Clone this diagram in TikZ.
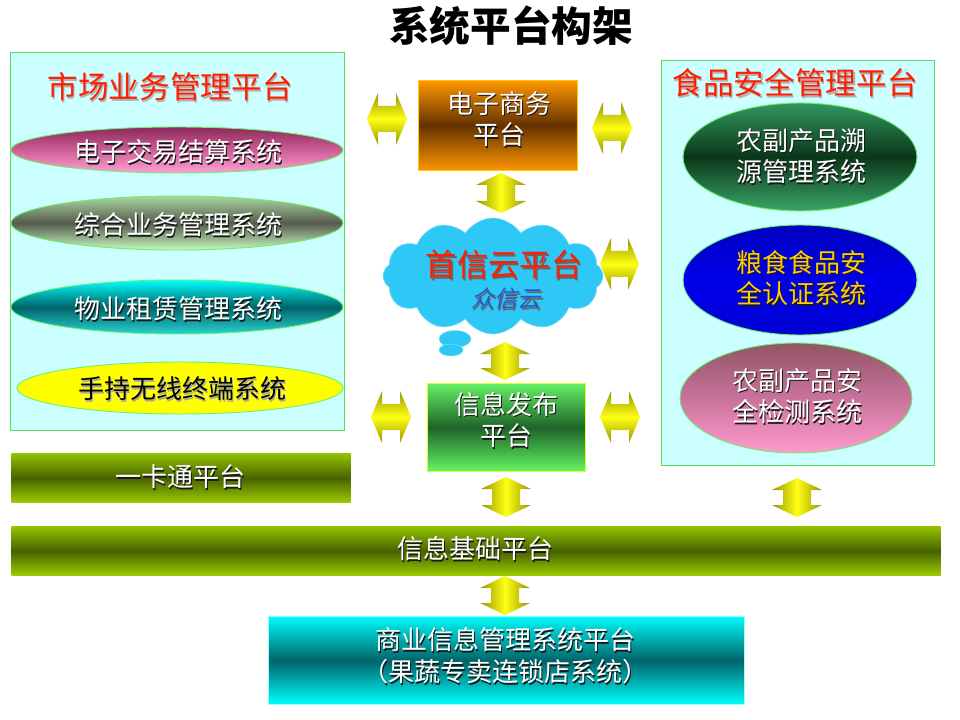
\documentclass[tikz,border=0pt]{standalone}
\usepackage{fontspec}
\setmainfont{Noto Sans CJK SC}
\newfontfamily\cjkit[FakeSlant=0.22]{Noto Sans CJK SC}
\usetikzlibrary{shapes.geometric,shapes.symbols,calc}
\def\pxu{0.75pt}
\definecolor{panelfill}{RGB}{204,255,255}
\definecolor{panelborder}{RGB}{90,220,90}
\definecolor{ellborder}{RGB}{110,240,110}
\definecolor{titlered}{RGB}{255,30,0}
\definecolor{arrolive}{RGB}{150,150,0}
\definecolor{arryellow}{RGB}{255,255,20}
\definecolor{cloudblue}{RGB}{45,200,245}
\definecolor{cloudedge}{RGB}{130,220,250}
\definecolor{goldtxt}{RGB}{255,204,0}
\definecolor{cloudtxtblue}{RGB}{40,90,200}
\newcommand\shtext[5][black!90]{%
  \node[#4,text=#1] at ([shift={(1.2pt,-1.2pt)}]#3) {#5};
  \node[#4] (#2) at (#3) {#5};}
\newcommand\varrow[4]{% name, cx, ytop, ybot
  \coordinate (#1) at (#2,{(#3+#4)/2});
  \path[varr] (#2,#3) -- (#2+25,#3+12) -- (#2+14,#3+12) -- (#2+14,#4-12) -- (#2+25,#4-12)
    -- (#2,#4) -- (#2-25,#4-12) -- (#2-14,#4-12) -- (#2-14,#3+12) -- (#2-25,#3+12) -- cycle;}
\newcommand\harrow[4]{% name, xl, xr, cy
  \coordinate (#1) at ({(#2+#3)/2},#4);
  \path[harr] (#2,#4) -- (#2+11,#4-26) -- (#2+11,#4-13) -- (#3-11,#4-13) -- (#3-11,#4-26)
    -- (#3,#4) -- (#3-11,#4+26) -- (#3-11,#4+13) -- (#2+11,#4+13) -- (#2+11,#4+26) -- cycle;}
\begin{document}
\begin{tikzpicture}[x=0.75pt,y=-0.75pt,
  panel/.style={rectangle,draw=panelborder,fill=panelfill,line width=0.8pt,inner sep=0,anchor=north west},
  ell/.style={ellipse,inner sep=0,draw=ellborder,line width=0.7pt},
  rbox/.style={rectangle,inner sep=0,anchor=north west,line width=0.8pt},
  bar/.style={rbox,top color={rgb,255:red,145;green,195;blue,0},bottom color={rgb,255:red,155;green,205;blue,0},middle color={rgb,255:red,72;green,98;blue,0}},
  wtxt/.style={text=white,font=\fontsize{19.5}{23.5}\selectfont,align=center,inner sep=0},
  rtitle/.style={text=titlered,font=\fontsize{23}{27}\selectfont,inner sep=0},
  varr/.style={left color=arrolive,right color=arrolive,middle color=arryellow},
  harr/.style={top color=arrolive,bottom color=arrolive,middle color=arryellow},
  puff/.style={ellipse,fill=cloudblue,draw=cloudedge,inner sep=0},
]
\useasboundingbox (0,0) rectangle (960,720);
\fill[white] (0,0) rectangle (960,720);

% title
\node[font=\bfseries\fontsize{30.5}{34}\selectfont,inner sep=0] (title) at (511,26) {系统平台构架};

% left panel
\node[panel,minimum width=334*\pxu,minimum height=378*\pxu] (lp) at (10,52) {};
\shtext[black!30]{lpt}{170,87}{rtitle}{市场业务管理平台}
\node[ell,minimum width=332*\pxu,minimum height=46*\pxu,
  top color={rgb,255:red,140;green,40;blue,90},bottom color={rgb,255:red,255;green,160;blue,210},middle color={rgb,255:red,205;green,95;blue,150}] (e1) at (177,150) {};
\shtext{e1t}{178,152}{wtxt}{电子交易结算系统}
\node[ell,minimum width=332*\pxu,minimum height=54*\pxu,
  top color={rgb,255:red,170;green,215;blue,160},bottom color={rgb,255:red,200;green,250;blue,190},middle color={rgb,255:red,85;green,92;blue,78}] (e2) at (177,223) {};
\shtext{e2t}{178,225}{wtxt}{综合业务管理系统}
\node[ell,minimum width=332*\pxu,minimum height=54*\pxu,
  top color={rgb,255:red,0;green,255;blue,255},bottom color={rgb,255:red,40;green,210;blue,210},middle color={rgb,255:red,0;green,100;blue,105}] (e3) at (177,307) {};
\shtext{e3t}{178,309}{wtxt}{物业租赁管理系统}
\node[ell,minimum width=326*\pxu,minimum height=52*\pxu,fill={rgb,255:red,255;green,255;blue,0}] (e4) at (180,388) {};
\shtext[black!35]{e4t}{182,389}{wtxt,text=black}{手持无线终端系统}

% right panel
\node[panel,minimum width=273*\pxu,minimum height=405*\pxu] (rp) at (661,60) {};
\shtext[black!30]{rpt}{795,83}{rtitle}{食品安全管理平台}
\node[ell,minimum width=234*\pxu,minimum height=108*\pxu,
  top color={rgb,255:red,50;green,150;blue,95},bottom color={rgb,255:red,60;green,165;blue,105},middle color={rgb,255:red,10;green,55;blue,25}] (r1) at (800,157) {};
\shtext{r1t}{801,156}{wtxt}{农副产品溯\\源管理系统}
\node[ell,minimum width=234*\pxu,minimum height=110*\pxu,
  top color={rgb,255:red,0;green,0;blue,190},bottom color={rgb,255:red,0;green,0;blue,210},middle color={rgb,255:red,0;green,0;blue,235}] (r2) at (800,280) {};
\shtext{r2t}{801,278}{wtxt,text=goldtxt}{粮食食品安\\全认证系统}
\node[ell,minimum width=232*\pxu,minimum height=110*\pxu,
  top color={rgb,255:red,145;green,85;blue,100},bottom color={rgb,255:red,255;green,155;blue,205},middle color={rgb,255:red,200;green,115;blue,155}] (r3) at (796,398) {};
\shtext{r3t}{797,396}{wtxt}{农副产品安\\全检测系统}

% center column
\node[rbox,draw={rgb,255:red,255;green,204;blue,0},minimum width=159*\pxu,minimum height=90*\pxu,
  top color={rgb,255:red,255;green,150;blue,0},bottom color={rgb,255:red,255;green,150;blue,0},middle color={rgb,255:red,100;green,50;blue,0}] (ec) at (418,80) {};
\shtext{ect}{499,119}{wtxt}{电子商务\\平台}

\node[cloud,cloud puffs=12,cloud puff arc=115,aspect=1.85,minimum width=220*\pxu,minimum height=116*\pxu,
  fill=cloudblue,draw=cloudedge,inner sep=0] (cloud) at (493,276) {};
\node[puff,minimum width=32*\pxu,minimum height=17*\pxu] (puff1) at (455,339) {};
\node[puff,minimum width=24*\pxu,minimum height=12*\pxu] (puff2) at (451,350) {};
\shtext[black!60]{cloudt}{504,265}{rtitle,font=\fontsize{23.5}{27}\selectfont}{首信云平台}
\shtext[black!60]{cloudst}{506,299}{inner sep=0,text=cloudtxtblue,font=\cjkit\fontsize{17.5}{20}\selectfont}{众信云}

\node[rbox,draw={rgb,255:red,220;green,255;blue,40},minimum width=158*\pxu,minimum height=88*\pxu,
  top color={rgb,255:red,100;green,240;blue,100},bottom color={rgb,255:red,100;green,245;blue,100},middle color={rgb,255:red,30;green,100;blue,40}] (info) at (427,383) {};
\shtext{infot}{506,420}{wtxt}{信息发布\\平台}

% bars
\node[bar,minimum width=339*\pxu,minimum height=49*\pxu] (card) at (11,453) {};
\shtext{cardt}{180,477}{wtxt}{一卡通平台}
\node[bar,minimum width=929*\pxu,minimum height=49*\pxu] (base) at (11,526) {};
\shtext{baset}{475,549}{wtxt}{信息基础平台}

% commerce box
\node[rbox,draw={rgb,255:red,150;green,255;blue,255},minimum width=476*\pxu,minimum height=88*\pxu,
  top color={rgb,255:red,0;green,250;blue,250},bottom color={rgb,255:red,0;green,255;blue,255},middle color={rgb,255:red,0;green,100;blue,105}] (com) at (268,616) {};
\shtext{comt}{505,656}{wtxt,font=\fontsize{19.5}{24}\selectfont}{商业信息管理系统平台\\（果蔬专卖连锁店系统）}

% vertical arrows
\varrow{va1}{501}{173}{213}
\varrow{va2}{505}{342}{380}
\varrow{va3}{506}{477}{517}
\varrow{va4}{505}{576}{615}
\varrow{va5}{797}{478}{517}
% horizontal arrows
\harrow{ha1}{367}{407}{119}
\harrow{ha2}{592}{632}{128}
\harrow{ha3}{600}{639}{264}
\harrow{ha4}{371}{411}{417}
\harrow{ha5}{600}{640}{417}
\end{tikzpicture}
\end{document}
